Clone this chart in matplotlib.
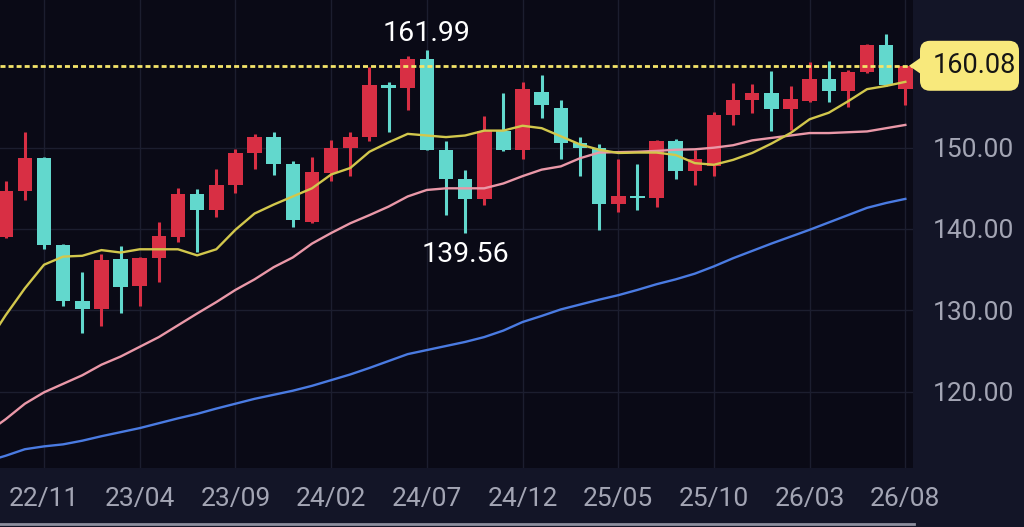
import matplotlib
matplotlib.use('Agg')
import matplotlib.pyplot as plt
from matplotlib.patches import FancyBboxPatch, Polygon
from matplotlib.lines import Line2D
import numpy as np

plt.rcParams['font.family'] = ['Roboto', 'DejaVu Sans']

# monthly candles, 22/09 .. 26/08
months = ['22/09', '22/10', '22/11', '22/12', '23/01', '23/02', '23/03', '23/04',
          '23/05', '23/06', '23/07', '23/08', '23/09', '23/10', '23/11', '23/12',
          '24/01', '24/02', '24/03', '24/04', '24/05', '24/06', '24/07', '24/08',
          '24/09', '24/10', '24/11', '24/12', '25/01', '25/02', '25/03', '25/04',
          '25/05', '25/06', '25/07', '25/08', '25/09', '25/10', '25/11', '25/12',
          '26/01', '26/02', '26/03', '26/04', '26/05', '26/06', '26/07', '26/08']
opens = [139.0, 144.7, 148.7, 138.0, 131.1, 130.1, 136.3, 133.0, 136.4, 139.0,
         144.3, 142.3, 145.4, 149.3, 151.3, 148.0, 140.8, 146.9, 150.0, 151.3,
         157.7, 157.4, 160.95, 149.75, 146.1, 143.7, 152.0, 149.75, 156.8, 154.9,
         150.6, 150.0, 143.05, 144.1, 143.8, 150.8, 147.1, 147.7, 154.0, 155.9,
         156.7, 154.8, 155.7, 158.5, 157.0, 159.3, 162.6, 157.2]
highs = [145.9, 151.9, 148.8, 138.1, 134.7, 136.9, 137.9, 136.5, 140.9, 145.0,
         144.9, 147.4, 149.8, 151.7, 151.9, 148.3, 148.8, 150.9, 151.9, 159.9,
         158.1, 161.3, 161.99, 150.8, 147.2, 153.9, 156.75, 158.1, 158.9, 155.9,
         151.3, 150.4, 148.6, 148.0, 150.9, 151.1, 149.75, 154.4, 157.9, 157.8,
         159.4, 157.65, 160.5, 160.65, 159.5, 162.7, 163.95, 160.1]
lows = [138.9, 143.6, 137.5, 130.5, 127.2, 128.0, 129.6, 130.5, 133.5, 138.4,
        137.2, 141.5, 144.4, 147.4, 146.7, 140.3, 140.7, 145.9, 146.5, 150.8,
        151.9, 154.6, 149.7, 141.7, 139.56, 143.0, 149.6, 148.6, 153.7, 148.6,
        146.5, 139.9, 142.1, 142.3, 142.7, 146.1, 145.4, 146.5, 152.8, 154.3,
        152.1, 152.2, 155.6, 155.6, 155.0, 159.2, 157.6, 155.2]
closes = [144.7, 148.7, 138.0, 131.1, 130.1, 136.2, 132.8, 136.4, 139.1, 144.3,
          142.3, 145.4, 149.3, 151.3, 148.0, 141.1, 147.0, 150.0, 151.3, 157.7,
          157.4, 160.95, 149.75, 146.1, 143.7, 152.0, 149.75, 157.2, 155.2, 150.6,
          150.0, 143.1, 144.0, 143.8, 150.8, 147.1, 148.6, 154.0, 155.9, 156.7,
          154.8, 156.0, 158.5, 157.0, 159.3, 162.6, 157.7, 160.08]

# moving averages, starting one month earlier (22/08)
ma_short = [125.8, 129.4, 132.7, 135.6, 136.6, 136.7, 137.4, 137.1, 137.5, 137.5,
            137.5, 136.75, 137.5, 139.9, 141.9, 143.0, 144.0, 145.0, 146.7, 147.5,
            149.5, 150.65, 151.7, 151.5, 151.3, 151.5, 152.1, 152.1, 152.7, 152.4,
            151.4, 150.4, 149.75, 149.35, 149.4, 149.4, 149.1, 148.1, 147.9, 148.5,
            149.35, 150.5, 151.8, 153.5, 154.3, 155.7, 157.2, 157.6, 158.1]
ma_mid = [114.9, 116.6, 118.5, 119.9, 120.95, 122.0, 123.3, 124.3, 125.5, 126.7,
          128.15, 129.6, 131.0, 132.5, 133.8, 135.3, 136.5, 138.2, 139.5, 140.7,
          141.7, 142.75, 144.0, 144.8, 145.0, 145.0, 145.0, 145.6, 146.5, 147.3,
          147.7, 148.7, 149.4, 149.45, 149.5, 149.6, 149.75, 149.8, 150.0, 150.3,
          150.9, 151.2, 151.5, 151.8, 151.8, 151.9, 152.0, 152.4, 152.8]
ma_long = [111.4, 112.1, 112.9, 113.25, 113.5, 113.95, 114.5, 115.0, 115.5, 116.1,
           116.7, 117.25, 117.9, 118.5, 119.1, 119.6, 120.1, 120.7, 121.4, 122.1,
           122.9, 123.75, 124.6, 125.1, 125.6, 126.1, 126.7, 127.5, 128.55, 129.3,
           130.1, 130.7, 131.3, 131.85, 132.5, 133.2, 133.8, 134.5, 135.4, 136.4,
           137.3, 138.2, 139.05, 139.9, 140.8, 141.7, 142.6, 143.2, 143.7]

last_price = 160.08
high_idx, high_val = 22, 161.99
low_idx, low_val = 24, 139.56

UP = '#d82f44'
DOWN = '#62d8cd'
BG = '#0a0a16'
PANEL = '#131527'
TXT = '#a3a5b4'

fig = plt.figure(figsize=(10.24, 5.27), dpi=100)
fig.patch.set_facecolor(PANEL)
ax = fig.add_axes([0, 1 - 468 / 527, 913 / 1024, 468 / 527])
ax.set_facecolor(BG)
for s in ax.spines.values():
    s.set_visible(False)

x = np.arange(len(months))
o = np.array(opens); c = np.array(closes)
cols = [UP if cc >= oo else DOWN for oo, cc in zip(o, c)]
ax.vlines(x, lows, highs, colors=cols, lw=2.2, zorder=2)
ax.bar(x, np.maximum(np.abs(c - o), 0.3), bottom=np.minimum(o, c), width=0.76,
       color=cols, zorder=3)

xm = np.arange(-1, len(months))
ax.plot(xm, ma_long, color='#4a7be2', lw=1.7, zorder=4)
ax.plot(xm, ma_mid, color='#ea98a8', lw=1.7, zorder=4)
ax.plot(xm, ma_short, color='#d2c74c', lw=1.7, zorder=5)

ax.axhline(last_price, color='#f4e46a', lw=2.0, ls=(0, (1.8, 1.1)), zorder=6)

ax.annotate(f'{high_val:.2f}', xy=(high_idx, high_val), xytext=(0, 2),
            textcoords='offset points', ha='center', va='bottom',
            color='white', fontsize=20.5)
ax.annotate(f'{low_val:.2f}', xy=(low_idx, low_val), xytext=(0, -6),
            textcoords='offset points', ha='center', va='top',
            color='white', fontsize=20.5)

ax.set_xlim(-0.3, 47.4)
ax.set_ylim(110.59, 168.17)
ax.set_xticks(x[2::5])
ax.set_xticklabels(months[2::5])
ax.set_yticks([120, 130, 140, 150])
ax.set_yticklabels([f'{v:.2f}' for v in [120, 130, 140, 150]])
ax.yaxis.tick_right()
ax.tick_params(axis='both', length=0, labelsize=19, labelcolor=TXT)
ax.tick_params(axis='x', pad=14)
ax.tick_params(axis='y', pad=14.4)
ax.grid(True, color='#1c1e2f', lw=1, zorder=0)
ax.set_axisbelow(True)

# price badge on the right
tr = fig.dpi_scale_trans
ypix = 147.7 - (last_price - 150) * 8.127
yb = (527 - ypix) / 100
fig.patches.append(FancyBboxPatch((9.20, yb - 0.25), 0.99, 0.5,
                                  boxstyle='round,pad=0,rounding_size=0.1',
                                  transform=tr, facecolor='#f8e97c', edgecolor='none'))
fig.patches.append(Polygon([(9.09, yb), (9.22, yb + 0.09), (9.22, yb - 0.09)],
                           closed=True, transform=tr, facecolor='#f8e97c', edgecolor='none'))
fig.text(9.33, yb, f'{last_price:.2f}', transform=tr, ha='left', va='center',
         color='#151515', fontsize=19.5)

# scroll bar at bottom
fig.add_artist(Line2D([0, 9.14], [0.03, 0.03], transform=tr, color='#8d8f9e', lw=2))

fig.savefig('out.png', dpi=100, facecolor=PANEL)
